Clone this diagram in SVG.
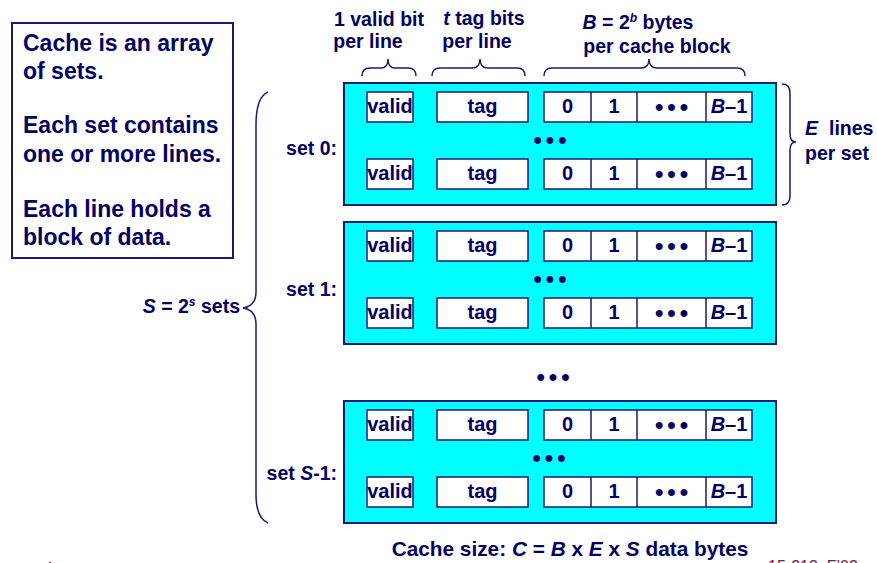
<svg xmlns="http://www.w3.org/2000/svg" width="877" height="563" viewBox="0 0 877 563">
<style>
text{font-family:"Liberation Sans",Arial,sans-serif;font-weight:bold;fill:#000066}
.big{font-size:23px}
.lbl{font-size:19.5px}
.cap{font-size:20.8px}
.cell{font-size:20px;text-anchor:middle}
.dots{font-size:24px;text-anchor:middle;letter-spacing:4px}
.setbox{fill:#00ffff;stroke:#1a1a70;stroke-width:2}
.c{fill:#ffffff;stroke:#1a1a70;stroke-width:1.5}
.div{stroke:#1a1a70;stroke-width:1.5}
.brace{fill:none;stroke:#1a1a70;stroke-width:1.5}
.foot{font-weight:normal;font-size:16px;fill:#7a1a40}
</style>
<defs>
<g id="line">
<rect class="c" x="367" y="0" width="46" height="30"/>
<rect class="c" x="437" y="0" width="91" height="30"/>
<rect class="c" x="544" y="0" width="208" height="30"/>
<line class="div" x1="591" y1="0" x2="591" y2="30"/>
<line class="div" x1="637" y1="0" x2="637" y2="30"/>
<line class="div" x1="706" y1="0" x2="706" y2="30"/>
<text class="cell" x="390" y="21">valid</text>
<text class="cell" x="482.5" y="21">tag</text>
<text class="cell" x="567.5" y="21">0</text>
<text class="cell" x="614" y="21">1</text>
<text class="dots" x="673.5" y="23">•••</text>
<text class="cell" x="729" y="21"><tspan font-style="italic">B</tspan>–1</text>
</g>
</defs>

<g id="note">
<rect x="12" y="23" width="221" height="235" fill="#ffffff" stroke="#1a1a70" stroke-width="2"/>
<text class="big" x="23" y="51">Cache is an array</text>
<text class="big" x="23" y="79">of sets.</text>
<text class="big" x="23" y="133">Each set contains</text>
<text class="big" x="23" y="162">one or more lines.</text>
<text class="big" x="23" y="217">Each line holds a</text>
<text class="big" x="23" y="245">block of data.</text>
</g>

<g id="headers">
<text class="lbl" x="379" y="26" text-anchor="middle">1 valid bit</text>
<text class="lbl" x="368" y="48" text-anchor="middle">per line</text>
<text class="lbl" x="484" y="25" text-anchor="middle"><tspan font-style="italic">t</tspan> tag bits</text>
<text class="lbl" x="477" y="48" text-anchor="middle">per line</text>
<text class="lbl" x="638" y="29" text-anchor="middle"><tspan font-style="italic">B</tspan> = 2<tspan font-size="12" dy="-7" font-style="italic">b</tspan><tspan dy="7"> bytes</tspan></text>
<text class="lbl" x="657" y="53" text-anchor="middle">per cache block</text>
</g>

<g id="set0">
<rect class="setbox" x="344" y="83" width="432" height="122"/>
<use href="#line" y="92"/>
<text class="dots" x="552" y="148">•••</text>
<use href="#line" y="159"/>
<text class="lbl" x="337" y="155" text-anchor="end">set 0:</text>
</g>

<g id="set1">
<rect class="setbox" x="344" y="222" width="432" height="122"/>
<use href="#line" y="231"/>
<text class="dots" x="552" y="287">•••</text>
<use href="#line" y="298"/>
<text class="lbl" x="337" y="296" text-anchor="end">set 1:</text>
</g>

<g id="between">
<text class="dots" x="555" y="385">•••</text>
</g>

<g id="setS1">
<rect class="setbox" x="344" y="401" width="432" height="122"/>
<use href="#line" y="410"/>
<text class="dots" x="551" y="466">•••</text>
<use href="#line" y="477"/>
<text class="lbl" x="337" y="480" text-anchor="end">set <tspan font-style="italic">S</tspan>-1:</text>
</g>

<g id="braces">
<path class="brace" d="M362,76 Q362,68 370,68 L381,68 Q388,68 388,59 Q388,68 395,68 L408,68 Q416,68 416,76"/>
<path class="brace" d="M432,76 Q432,68 440,68 L472,68 Q480,68 480,59 Q480,68 488,68 L517,68 Q525,68 525,76"/>
<path class="brace" d="M544,76 Q544,68 552,68 L641,68 Q649,68 649,59 Q649,68 657,68 L737,68 Q745,68 745,76"/>
<path class="brace" d="M782,84 Q790,84 790,93 L790,134 Q790,142 796,142 Q790,142 790,150 L790,196 Q790,205 782,205"/>
<path class="brace" d="M268,92 Q256,97 256,125 L256,292 Q256,306 243,308 Q256,310 256,324 L256,494 Q256,518 268,523"/>
</g>

<g id="side-labels">
<text class="lbl" x="805" y="135"><tspan font-style="italic">E</tspan><tspan dx="11">lines</tspan></text>
<text class="lbl" x="805" y="160">per set</text>
<text class="lbl" x="240" y="313" text-anchor="end"><tspan font-style="italic">S</tspan> = 2<tspan font-size="12" dy="-7" font-style="italic">s</tspan><tspan dy="7"> sets</tspan></text>
</g>

<g id="caption">
<text class="cap" x="570" y="556" text-anchor="middle">Cache size:  <tspan font-style="italic">C</tspan> = <tspan font-style="italic">B</tspan> x <tspan font-style="italic">E</tspan> x <tspan font-style="italic">S</tspan> data bytes</text>
<text class="foot" x="768" y="572">15-213, F’02</text>
<text class="foot" x="44" y="574">4</text>
</g>
</svg>
